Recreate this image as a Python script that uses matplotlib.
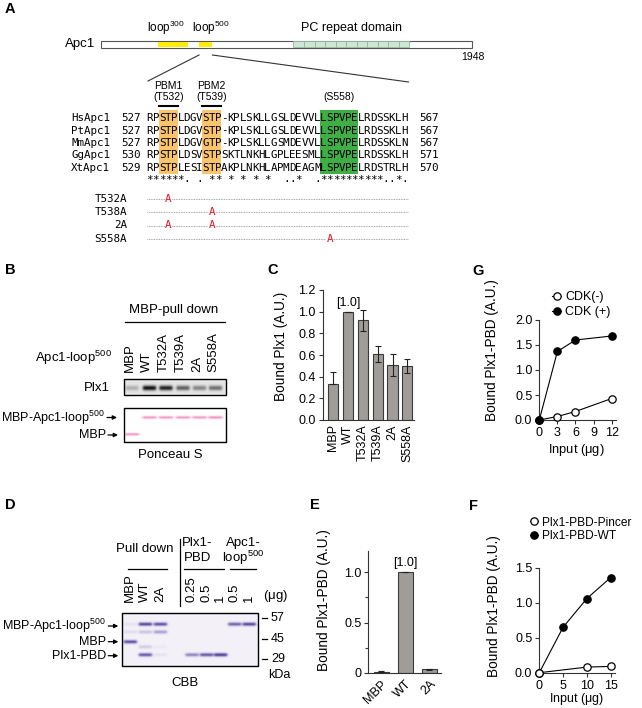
import numpy as np
import matplotlib
matplotlib.use("Agg")
import matplotlib.pyplot as plt
from matplotlib.patches import Rectangle

plt.rcParams['font.family'] = ['Liberation Sans', 'DejaVu Sans']
plt.rcParams['font.size'] = 9
plt.rcParams['mathtext.fontset'] = 'custom'
plt.rcParams['mathtext.rm'] = 'Liberation Sans'
plt.rcParams['axes.linewidth'] = 0.8

###################### data ######################
# A - Apc1 domain map (residues) and alignment
apc1_len = 1948
loop300 = (300, 455)
loop500 = (515, 585)
pc_repeat = (1010, 1618)
n_pc = 11

species = ['HsApc1', 'PtApc1', 'MmApc1', 'GgApc1', 'XtApc1']
seq_first = [527, 527, 527, 530, 529]
seq_last = [567, 567, 567, 571, 570]
seqs = ['RPSTPLDGVSTP-KPLSKLLGSLDEVVLLSPVPELRDSSKLH',
        'RPSTPLDGVSTP-KPLSKLLGSLDEVVLLSPVPELRDSSKLH',
        'RPSTPLDGVGTP-KPLSKLLGSMDEVVLLSPVPELRDSSKLN',
        'RPSTPLDSVSTPSKTLNKHLGPLEESMLLSPVPELRDSSKLH',
        'RPSTPLESISTPAKPLNKHLAPMDEAGMLSPVPELRDSTRLH']
consensus = '******. . ** * * * *  ..*  .**********..*.'
pbm_cols = [(2, 5), (9, 12)]
cdk_cols = (28, 34)
mutants = ['T532A', 'T538A', '2A', 'S558A']
mut_cols = [[3], [10], [3, 10], [29]]

# B - pull down blots
b_lanes = ['MBP', 'WT', 'T532A', 'T539A', '2A', 'S558A']
plx1_signal = [0.25, 1.0, 0.92, 0.62, 0.45, 0.55]
ponceau_fusion = [0.0, 0.75, 0.75, 0.75, 0.75, 0.8]
ponceau_mbp = [0.75, 0, 0, 0, 0, 0]

# C - quantification
c_vals = [0.33, 1.0, 0.92, 0.61, 0.51, 0.50]
c_err_lo = [0.0, 0.0, 0.095, 0.075, 0.10, 0.065]
c_err_hi = [0.11, 0.0, 0.095, 0.075, 0.10, 0.065]

# D - CBB gel
d_lanes = ['MBP', 'WT', '2A', '0.25', '0.5', '1', '0.5', '1']
d_loop = [0.08, 0.95, 0.9, 0, 0, 0, 0.8, 0.95]
d_loop_minor = [0.12, 0.25, 0.45, 0, 0, 0, 0, 0]
d_mbp = [0.9, 0.0, 0.0, 0, 0, 0, 0, 0]
d_minor2 = [0.0, 0.2, 0.05, 0, 0, 0, 0, 0]
d_pbd = [0.0, 0.85, 0.08, 0.6, 0.85, 1.0, 0, 0]
markers_kda = ['57', '45', '29']

# E
e_labels = ['MBP', 'WT', '2A']
e_vals = [0.01, 1.0, 0.035]
e_err = [0.003, 0.0, 0.005]

# F
f_input = [0, 5, 10, 15]
f_wt = [0, 0.65, 1.06, 1.36]
f_pincer_input = [0, 10, 15]
f_pincer = [0, 0.08, 0.09]

# G
g_input = [0, 3, 6, 12]
g_plus = [0, 1.37, 1.6, 1.68]
g_minus = [0, 0.07, 0.17, 0.43]

###################### figure ######################
W, H = 642, 708
fig = plt.figure(figsize=(W / 100, H / 100), dpi=100)
ov = fig.add_axes([0, 0, 1, 1])
ov.axis('off')
lab_fs = 9.8


def px_axes(left, top, right, bottom):
    return fig.add_axes([left / W, 1 - bottom / H, (right - left) / W, (bottom - top) / H])


def style(ax):
    for s in ['top', 'right']:
        ax.spines[s].set_visible(False)
    for s in ['left', 'bottom']:
        ax.spines[s].set_color('#333333')
    ax.tick_params(direction='out', length=3, width=0.8, pad=2, labelsize=9, color='#333333')
    ax.set_facecolor('none')


def gel(x0, y0, x1, y1, lane_x, rows, bg, col, lane_w, sig):
    sc = 4
    nx, ny = int((x1 - x0) * sc), int((y1 - y0) * sc)
    xs = x0 + (np.arange(nx) + 0.5) / sc
    ys = y0 + (np.arange(ny) + 0.5) / sc
    a = np.zeros((ny, nx))
    for yb, vals in rows:
        for lx, v in zip(lane_x, vals):
            if v <= 0:
                continue
            px = 1 / (1 + np.exp(-(xs - (lx - lane_w / 2)) * 1.5)) / (1 + np.exp((xs - (lx + lane_w / 2)) * 1.5))
            py = np.exp(-0.5 * ((ys - yb) / sig) ** 2)
            a += v * np.outer(py, px)
    a = np.clip(a, 0, 1)[..., None]
    img = np.array(bg)[None, None, :] * (1 - a) + np.array(col)[None, None, :] * a
    ov.imshow(img, extent=(x0, x1, y1, y0), aspect='auto', interpolation='bilinear', zorder=1)
    ov.add_patch(Rectangle((x0, y0), x1 - x0, y1 - y0, fill=False, lw=1.0, ec='k', zorder=2))


def arrow_label(text, x_tip, y):
    ov.annotate('', xy=(x_tip, y), xytext=(x_tip - 10, y),
                arrowprops=dict(arrowstyle='-|>', lw=0.9, color='k', mutation_scale=6, shrinkA=0, shrinkB=0))
    ov.text(x_tip - 12, y, text, ha='right', va='center', fontsize=9)


# panel letters
for lab, x, y in [('A', 5, 9), ('B', 5, 270), ('C', 267, 270), ('G', 472, 271),
                  ('D', 5, 505), ('E', 310, 505), ('F', 469, 506)]:
    ov.text(x, y, lab, fontsize=10.5, fontweight='bold', ha='left', va='center')

# ---------- A ----------
bx0, bx1 = 100.8, 472.4


def rx(r):
    return bx0 + (bx1 - bx0) * r / apc1_len


ov.add_patch(Rectangle((bx0, 40.5), bx1 - bx0, 7.5, fc='white', ec='#555555', lw=0.8))
for lo, hi in [loop300, loop500]:
    ov.add_patch(Rectangle((rx(lo), 41.8), rx(hi) - rx(lo), 5, fc='#ffee00', ec='none'))
cw_pc = (rx(pc_repeat[1]) - rx(pc_repeat[0])) / n_pc
for i in range(n_pc):
    ov.add_patch(Rectangle((rx(pc_repeat[0]) + i * cw_pc, 41.2), cw_pc, 6.1,
                           fc='#cfe6d6', ec='#8fb89c', lw=0.6))
ov.text(95.5, 44.2, 'Apc1', ha='right', va='center', fontsize=9.5)
ov.text(rx(apc1_len), 57.5, '1948', ha='center', va='center', fontsize=7.5)
ov.text(166, 28, r'loop$^{\mathregular{300}}$', ha='center', va='center', fontsize=8.5)
ov.text(211, 28, r'loop$^{\mathregular{500}}$', ha='center', va='center', fontsize=8.5)
ov.text((rx(pc_repeat[0]) + rx(pc_repeat[1])) / 2, 28, 'PC repeat domain', ha='center', va='center', fontsize=9)
ov.plot([rx(loop500[0]), 148], [55, 81], color='#333333', lw=0.8)
ov.plot([rx(loop500[1]), 408.5], [55, 82], color='#333333', lw=0.8)

sx0, cw = 146.5, 6.21
row_y = [118, 130.5, 143, 155.5, 168]
mono = 'DejaVu Sans Mono'
mfs = 7.8
for c0, c1 in pbm_cols:
    ov.add_patch(Rectangle((sx0 + c0 * cw, 109.5), (c1 - c0) * cw, 64, fc='#f9c46b', ec='none'))
    ov.plot([sx0 + c0 * cw, sx0 + c1 * cw], [105.7, 105.7], color='k', lw=1.5)
ov.add_patch(Rectangle((sx0 + cdk_cols[0] * cw, 109.5), (cdk_cols[1] - cdk_cols[0]) * cw, 64,
                       fc='#3fae45', ec='none'))
for (c0, c1), lab1, lab2 in zip(pbm_cols, ['PBM1', 'PBM2'], ['(T532)', '(T539)']):
    xc = sx0 + (c0 + c1) / 2 * cw
    ov.text(xc, 86, lab1, ha='center', va='center', fontsize=7.5)
    ov.text(xc, 97, lab2, ha='center', va='center', fontsize=7.5)
ov.text(sx0 + sum(cdk_cols) / 2 * cw, 97, '(S558)', ha='center', va='center', fontsize=7.5)

for y, name, f, l, s in zip(row_y, species, seq_first, seq_last, seqs):
    ov.text(71, y, name, ha='left', va='center', fontsize=mfs, family=mono)
    ov.text(121, y, str(f), ha='left', va='center', fontsize=mfs, family=mono)
    ov.text(419, y, str(l), ha='left', va='center', fontsize=mfs, family=mono)
    for i, ch in enumerate(s):
        ov.text(sx0 + (i + 0.5) * cw, y, ch, ha='center', va='center', fontsize=mfs, family=mono)
for i, ch in enumerate(consensus):
    if ch != ' ':
        ov.text(sx0 + (i + 0.5) * cw, 179.5, ch, ha='center', va='center', fontsize=mfs, family=mono)

mut_y = [198.5, 212, 225.5, 239]
for y, name, cols in zip(mut_y, mutants, mut_cols):
    ov.text(127, y, name, ha='right', va='center', fontsize=mfs, family=mono)
    ov.plot([147, 407.5], [y, y], color='#888888', lw=0.6, ls=(0, (1, 1)))
    for c in cols:
        ov.text(sx0 + (c + 0.5) * cw, y, 'A', ha='center', va='center', fontsize=mfs,
                family=mono, color='#e8141c', bbox=dict(fc='white', ec='none', pad=0.3))

# ---------- B ----------
b_x = [132, 149.5, 166, 183, 199.5, 215.5]
ov.text(174, 310, 'MBP-pull down', ha='center', va='center', fontsize=9.5)
ov.plot([125, 225], [321.7, 321.7], color='k', lw=0.9)
for x, lab in zip(b_x, b_lanes):
    ov.text(x - 2.5, 372, lab, rotation=90, ha='center', va='bottom', fontsize=9.5)
ov.text(111.7, 358, r'Apc1-loop$^{\mathregular{500}}$', ha='right', va='center', fontsize=9.5)
ov.text(110, 388, 'Plx1', ha='right', va='center', fontsize=9.5)
gel(124, 379.3, 226, 395, b_x, [(388, plx1_signal)], (0.9, 0.9, 0.9), (0.05, 0.05, 0.05), 13, 1.7)
gel(124, 408.3, 226, 441.7, b_x, [(417.5, ponceau_fusion), (434, ponceau_mbp)],
    (1, 1, 1), (0.93, 0.45, 0.70), 14, 0.9)
arrow_label(r'MBP-Apc1-loop$^{\mathregular{500}}$', 117, 417.5)
arrow_label('MBP', 118, 435)
ov.text(170, 455, 'Ponceau S', ha='center', va='center', fontsize=9.5)

# ---------- C ----------
axC = px_axes(322.7, 290, 414.3, 420)
style(axC)
xc = np.arange(len(b_lanes))
axC.bar(xc, c_vals, width=0.68, color='#a09d99', edgecolor='#3a3a3a', linewidth=0.8,
        yerr=[c_err_lo, c_err_hi], capsize=2.5,
        error_kw=dict(lw=0.8, capthick=0.8, ecolor='#222222'))
axC.set_xlim(-0.716, 5.47)
axC.set_ylim(0, 1.2)
axC.set_yticks(np.arange(0, 1.21, 0.2))
axC.set_yticklabels(['%.1f' % v for v in np.arange(0, 1.21, 0.2)])
axC.set_xticks(xc)
axC.set_xticklabels(b_lanes, rotation=90)
axC.tick_params(axis='x', length=0, pad=3)
axC.text(1, 1.083, '[1.0]', ha='center', va='center', fontsize=9)
axC.set_ylabel('Bound Plx1 (A.U.)', fontsize=lab_fs)
axC.yaxis.set_label_coords(-0.38, 0.57)

# ---------- G ----------
axG = px_axes(539.3, 320, 615.7, 420)
style(axG)
hm, = axG.plot(g_input, g_minus, '-o', color='k', lw=0.8, ms=5.3, mfc='white', mec='k', mew=0.9,
               clip_on=False, zorder=3)
hp, = axG.plot(g_input, g_plus, '-o', color='k', lw=0.8, ms=5.3, mfc='k', mec='k', mew=0.9,
               clip_on=False, zorder=4)
axG.set_xlim(0, 12.67)
axG.set_ylim(0, 2.0)
axG.set_xticks([0, 3, 6, 9, 12])
axG.set_yticks([0, 0.5, 1.0, 1.5, 2.0])
axG.set_yticklabels(['0.0', '0.5', '1.0', '1.5', '2.0'])
axG.set_ylabel('Bound Plx1-PBD (A.U.)', fontsize=lab_fs)
axG.yaxis.set_label_coords(-0.53, 0.7)
axG.set_xlabel(r'Input ($\mathregular{\mu}$g)', fontsize=9.3)
axG.xaxis.set_label_coords(0.49, -0.22)
axG.legend([hm, hp], ['CDK(-)', 'CDK (+)'], loc='upper left', bbox_to_anchor=(552 / W, 1 - 291 / H),
           bbox_transform=fig.transFigure, frameon=False, handlelength=0.75, handletextpad=0.3,
           labelspacing=0.25, borderpad=0, borderaxespad=0, fontsize=9)

# ---------- D ----------
d_x = [130, 145, 160, 191.5, 206, 220, 234, 248.5]
ov.text(145, 549.3, 'Pull down', ha='center', va='center', fontsize=9.5)
ov.plot([127.7, 166.7], [569.3, 569.3], color='k', lw=0.9)
ov.plot([180, 180], [539, 606], color='k', lw=0.9)
ov.text(197.5, 543.3, 'Plx1-', ha='center', va='center', fontsize=9.5)
ov.text(197.5, 558.3, 'PBD', ha='center', va='center', fontsize=9.5)
ov.plot([184, 224], [569.3, 569.3], color='k', lw=0.9)
ov.text(243, 543.3, 'Apc1-', ha='center', va='center', fontsize=9.5)
ov.text(243, 558.3, r'loop$^{\mathregular{500}}$', ha='center', va='center', fontsize=9.5)
ov.plot([230, 256], [569.3, 569.3], color='k', lw=0.9)
for x, lab in zip(d_x, d_lanes):
    ov.text(x, 602, lab, rotation=90, ha='center', va='bottom', fontsize=9.5)
ov.text(276, 596, r'($\mathregular{\mu}$g)', ha='center', va='center', fontsize=9.5)
gel(121.7, 613.3, 258.3, 665.7, d_x,
    [(624.3, d_loop), (632, d_loop_minor), (641.7, d_mbp), (646.7, d_minor2), (654.5, d_pbd)],
    (0.955, 0.945, 0.975), (0.30, 0.24, 0.60), 13, 1.2)
for y, lab in zip([618.3, 639.3, 659.3], markers_kda):
    ov.plot([262, 267], [y, y], color='k', lw=0.9)
    ov.text(271, y, lab, ha='left', va='center', fontsize=9)
ov.text(279, 675, 'kDa', ha='center', va='center', fontsize=9)
arrow_label(r'MBP-Apc1-loop$^{\mathregular{500}}$', 118.3, 626)
arrow_label('MBP', 118.3, 641.7)
arrow_label('Plx1-PBD', 118.3, 655.7)
ov.text(185, 683, 'CBB', ha='center', va='center', fontsize=9.5)

# ---------- E ----------
axE = px_axes(368.3, 551.3, 440.7, 672.7)
style(axE)
xe = np.arange(len(e_labels))
axE.bar(xe, e_vals, width=0.62, color='#a09d99', edgecolor='#3a3a3a', linewidth=0.8,
        yerr=e_err, capsize=2.5, error_kw=dict(lw=0.8, capthick=0.8, ecolor='#222222'))
axE.set_xlim(-0.54, 2.47)
axE.set_ylim(0, 1.21)
axE.set_yticks([0, 0.5, 1.0])
axE.set_yticklabels(['0', '0.5', '1.0'])
axE.set_yticks([0.25, 0.75], minor=True)
axE.tick_params(axis='y', which='minor', length=2, width=0.8, color='#333333')
axE.set_xticks(xe)
axE.set_xticklabels(e_labels, rotation=45, ha='right', rotation_mode='anchor')
axE.tick_params(axis='x', length=0, pad=4)
axE.text(1, 1.097, '[1.0]', ha='center', va='center', fontsize=9)
axE.set_ylabel('Bound Plx1-PBD (A.U.)', fontsize=lab_fs)
axE.yaxis.set_label_coords(-0.51, 0.6)

# ---------- F ----------
axF = px_axes(539.3, 567.7, 615, 672.7)
style(axF)
hw, = axF.plot(f_input, f_wt, '-o', color='k', lw=0.8, ms=5.3, mfc='k', mec='k', mew=0.9,
               clip_on=False, zorder=3)
hpc, = axF.plot(f_pincer_input, f_pincer, '-o', color='k', lw=0.8, ms=5.3, mfc='white', mec='k',
                mew=0.9, clip_on=False, zorder=4)
axF.set_xlim(0, 15.9)
axF.set_ylim(0, 1.5)
axF.set_xticks([0, 5, 10, 15])
axF.set_yticks([0, 0.5, 1.0, 1.5])
axF.set_yticklabels(['0.0', '0.5', '1.0', '1.5'])
axF.set_ylabel('Bound Plx1-PBD (A.U.)', fontsize=lab_fs)
axF.yaxis.set_label_coords(-0.51, 0.63)
axF.set_xlabel(r'Input ($\mathregular{\mu}$g)', fontsize=9)
axF.xaxis.set_label_coords(0.49, -0.178)
axF.legend([hpc, hw], ['Plx1-PBD-Pincer', 'Plx1-PBD-WT'], loc='upper left',
           bbox_to_anchor=(529.5 / W, 1 - 516.5 / H), bbox_transform=fig.transFigure, frameon=False,
           handlelength=0.75, handletextpad=0.3, labelspacing=0.15, borderpad=0, borderaxespad=0,
           fontsize=8.6)

ov.set_xlim(0, W)
ov.set_ylim(H, 0)
fig.savefig('out.png', dpi=100)
